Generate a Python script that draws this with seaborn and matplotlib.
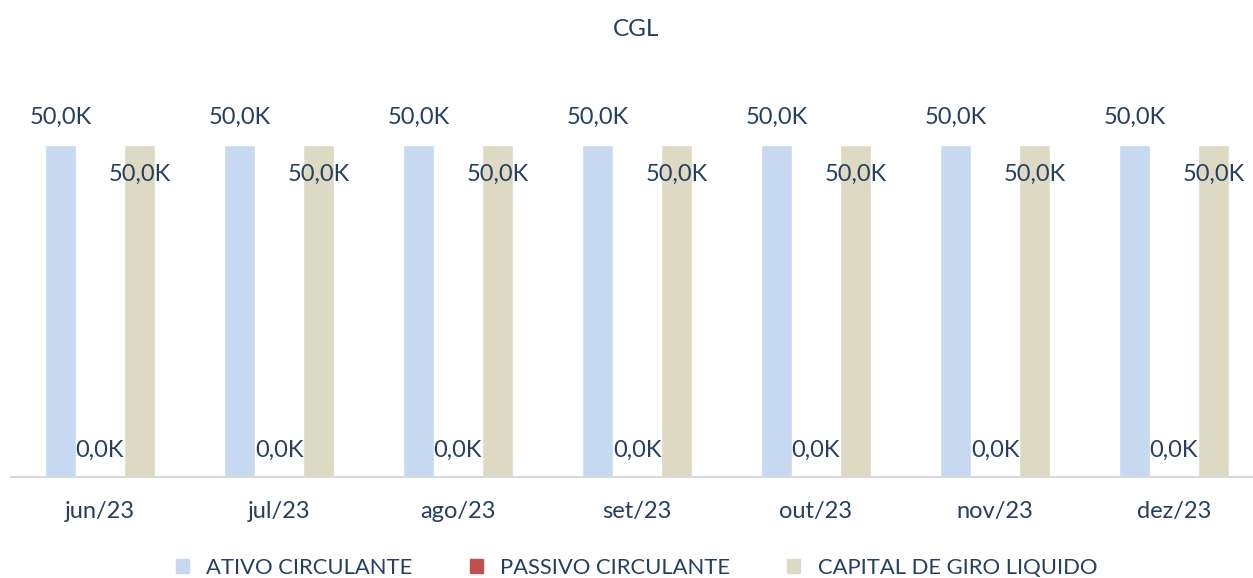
import pandas as pd
import matplotlib.pyplot as plt
import seaborn as sns

# Chart data
months = ['jun/23', 'jul/23', 'ago/23', 'set/23', 'out/23', 'nov/23', 'dez/23']
ativo_circulante = [50000, 50000, 50000, 50000, 50000, 50000, 50000]
passivo_circulante = [0, 0, 0, 0, 0, 0, 0]
capital_giro = [50000, 50000, 50000, 50000, 50000, 50000, 50000]
series_names = ['ATIVO CIRCULANTE', 'PASSIVO CIRCULANTE', 'CAPITAL DE GIRO LIQUIDO']

colors = ['#C6D9F0', '#C0504D', '#DDD9C3']
text_color = '#243F60'

df = pd.DataFrame({'Mes': months * 3,
                   'Serie': [series_names[0]] * 7 + [series_names[1]] * 7 + [series_names[2]] * 7,
                   'Valor': [v / 1000 for v in ativo_circulante + passivo_circulante + capital_giro]})

sns.set_theme(style="white")
plt.rcParams['font.family'] = ['Lato', 'DejaVu Sans']

fig = plt.figure(figsize=(12.53, 5.78), dpi=100)
# axes: baseline at y=477px, left edge at x=10px, category width ~179px
left = 10.5 / 1253
bottom = (578 - 477) / 578
top_px = 100
ax = fig.add_axes([left, bottom, 1 - left, (477 - top_px) / 578])

sns.barplot(data=df, x='Mes', y='Valor', hue='Serie', hue_order=series_names,
            palette=colors, width=0.66, gap=0.21, saturation=1, ax=ax, legend=False)

ax.set_xlim(-0.5, -0.5 + 1242.5 / 179.0)
ax.set_ylim(0, 50 * (477 - top_px) / 332)

# Data labels
fs = 17
offsets = [20, 19, -21]  # points: above, above, inside end
for container, off in zip(ax.containers, offsets):
    for rect in container:
        h = rect.get_height()
        ax.annotate(f'{h:.1f}K'.replace('.', ','),
                    (rect.get_x() + rect.get_width() / 2, h),
                    xytext=(0, off), textcoords='offset points',
                    ha='center', va='center', fontsize=fs, color=text_color)

for s in ['top', 'right', 'left']:
    ax.spines[s].set_visible(False)
ax.spines['bottom'].set_color('#D9D9D9')
ax.spines['bottom'].set_linewidth(1.5)
ax.set_yticks([])
ax.set_xlabel('')
ax.set_ylabel('')
ax.tick_params(axis='x', length=0, pad=17, labelsize=fs, labelcolor=text_color)

fig.text(0.508, 1 - 30 / 578, 'CGL', ha='center', va='center', fontsize=17.5, color=text_color)

handles = [plt.Rectangle((0, 0), 1, 1, color=c) for c in colors]
fig.legend(handles, series_names, loc='center', bbox_to_anchor=(0.508, 1 - 568 / 578),
           ncol=3, frameon=False, fontsize=15.8, labelcolor=text_color,
           handlelength=0.6, handleheight=0.6, handletextpad=0.8, columnspacing=2.6)

fig.savefig('out.png', dpi=100)
